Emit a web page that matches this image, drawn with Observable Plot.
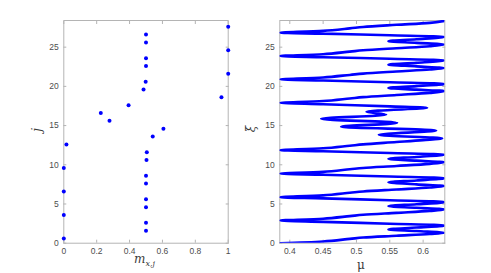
<!DOCTYPE html>
<html>
<head>
<meta charset="utf-8">
<script src="https://cdn.jsdelivr.net/npm/d3@7"></script>
<script src="https://cdn.jsdelivr.net/npm/@observablehq/plot@0.6"></script>
<style>
  body { margin: 0; background: #fff; }
  #wrap { position: relative; width: 491px; height: 273px; background: #fff; overflow: hidden; }
  .panel { position: absolute; top: 0; }
  .lab { position: absolute; font-family: "DejaVu Serif", "Liberation Serif", serif; font-style: italic; color: #3a3a3a; font-size: 12px; line-height: 1; white-space: nowrap; }
  .lab sub { font-size: 8px; }
</style>
</head>
<body>
<div id="wrap">
  <div id="left" class="panel" style="left:0px"></div>
  <div id="right" class="panel" style="left:245px"></div>
  <div class="lab" id="lx" style="left:134px; top:253px;">m<sub>x,j</sub></div>
  <div class="lab" id="ly" style="left:35px; top:124px; transform: rotate(-90deg);">j</div>
  <div class="lab" id="rx" style="left:357px; top:259px; font-style: normal;">μ</div>
  <div class="lab" id="ry" style="left:248px; top:123px; transform: rotate(-90deg);">ξ</div>
</div>
<script>
// ---- Left panel data: j versus m_{x,j}
const jValues = [0.6, 1.6, 2.6, 3.6, 4.6, 5.6, 6.6, 7.6, 8.6, 9.6, 10.6, 11.6, 12.6, 13.6,
                 14.6, 15.6, 16.6, 17.6, 18.6, 19.6, 20.6, 21.6, 22.6, 23.6, 24.6, 25.6, 26.6, 27.6];
const mValues = [0, 0.5, 0.5, 0, 0.5, 0.5, 0, 0.5, 0.5, 0, 0.503, 0.505, 0.016, 0.541,
                 0.606, 0.278, 0.225, 0.394, 0.959, 0.485, 0.498, 1, 0.5, 0.5, 1, 0.5, 0.5, 1];

// ---- Right panel data: the continuation curve xi versus mu (in drawing order)
const muCurve = [
  0.386, 0.45, 0.49, 0.51, 0.56, 0.61, 0.632,
  0.59, 0.548, 0.59, 0.632,
  0.55, 0.45, 0.386,
  0.45, 0.49, 0.51, 0.56, 0.61, 0.632,
  0.59, 0.548, 0.59, 0.632,
  0.55, 0.45, 0.386,
  0.45, 0.49, 0.51, 0.56, 0.61, 0.632,
  0.59, 0.548, 0.59, 0.632,
  0.55, 0.45, 0.386,
  0.45, 0.49, 0.51, 0.56, 0.61, 0.632,
  0.59, 0.548, 0.59, 0.632,
  0.55, 0.45, 0.386,
  0.45, 0.49, 0.51, 0.56, 0.60, 0.6285,
  0.5335, 0.6196, 0.477, 0.561, 0.447, 0.5446, 0.515, 0.606,
  0.55, 0.45, 0.386,
  0.45, 0.49, 0.51, 0.56, 0.61, 0.632,
  0.59, 0.548, 0.59, 0.632,
  0.55, 0.45, 0.386,
  0.45, 0.49, 0.51, 0.56, 0.61, 0.632,
  0.59, 0.548, 0.59, 0.632,
  0.55, 0.45, 0.386,
  0.45, 0.49, 0.51, 0.56, 0.61, 0.632,
  0.59, 0.548, 0.59, 0.632,
  0.55, 0.45, 0.386,
  0.45, 0.49, 0.51, 0.56, 0.61, 0.632
];
const xiCurve = [
  0.0, 0.22, 0.55, 0.72, 0.95, 1.18, 1.33,
  1.55, 1.76, 2.0, 2.25,
  2.48, 2.72, 2.89,
  3.12, 3.45, 3.62, 3.87, 4.12, 4.30,
  4.52, 4.73, 4.97, 5.23,
  5.48, 5.72, 5.87,
  6.10, 6.43, 6.60, 6.85, 7.10, 7.28,
  7.50, 7.77, 8.00, 8.28,
  8.50, 8.73, 8.88,
  9.10, 9.43, 9.60, 9.85, 10.12, 10.32,
  10.53, 10.76, 11.00, 11.28,
  11.50, 11.72, 11.87,
  12.10, 12.43, 12.60, 12.90, 13.15, 13.38,
  13.82, 14.37, 14.84, 15.35, 15.86, 16.41, 16.75, 17.26,
  17.45, 17.72, 17.90,
  18.13, 18.46, 18.63, 18.90, 19.17, 19.38,
  19.58, 19.80, 20.03, 20.30,
  20.52, 20.75, 20.90,
  21.13, 21.46, 21.63, 21.90, 22.15, 22.33,
  22.55, 22.77, 23.00, 23.30,
  23.52, 23.72, 23.87,
  24.10, 24.43, 24.60, 24.87, 25.12, 25.33,
  25.55, 25.76, 26.00, 26.30,
  26.52, 26.72, 26.85,
  27.08, 27.40, 27.58, 27.85, 28.10, 28.35
];

// ---- Ticks
const leftXTicks = [0, 0.2, 0.4, 0.6, 0.8, 1];
const rightXTicks = [0.4, 0.45, 0.5, 0.55, 0.6];
const yTicks = [0, 5, 10, 15, 20, 25];

const points = jValues.map((j, i) => ({m: mValues[i], j}));
const curve = muCurve.map((mu, i) => ({mu, xi: xiCurve[i]}));

const axisColor = "#b4b4b4";
const textColor = "#4d4d4d";
const blue = "#0000ff";
const style = {fontFamily: "'Liberation Sans', Arial, Helvetica, sans-serif", fontSize: "8.5px", color: textColor, background: "transparent", overflow: "visible"};

function axes(xTicks, fmtX) {
  const blank = () => "";
  return [
    Plot.axisX(xTicks, {anchor: "bottom", tickSize: -3, tickPadding: 8, label: null, stroke: axisColor, tickFormat: fmtX}),
    Plot.axisX(xTicks, {anchor: "top", tickSize: -3, tickPadding: 0, label: null, stroke: axisColor, tickFormat: blank}),
    Plot.axisY(yTicks, {anchor: "left", tickSize: -3, tickPadding: 8, label: null, stroke: axisColor}),
    Plot.axisY(yTicks, {anchor: "right", tickSize: -3, tickPadding: 0, label: null, stroke: axisColor, tickFormat: blank}),
    Plot.frame({stroke: axisColor, strokeWidth: 1})
  ];
}

const left = Plot.plot({
  width: 245, height: 273,
  marginLeft: 63.3, marginRight: 17.3, marginTop: 20, marginBottom: 30.3,
  x: {domain: [0, 1]},
  y: {domain: [0, 28.4]},
  style,
  marks: [
    ...axes(leftXTicks, d => String(d)),
    Plot.dot(points, {x: "m", y: "j", r: 2.0, fill: blue, stroke: "none"})
  ]
});
document.getElementById("left").appendChild(left);

const right = Plot.plot({
  width: 246, height: 273,
  marginLeft: 34.3, marginRight: 46.7, marginTop: 20, marginBottom: 30.3,
  x: {domain: [0.385, 0.6325]},
  y: {domain: [0, 28.4]},
  style,
  marks: [
    ...axes(rightXTicks, d => String(d)),
    Plot.line(curve, {x: "mu", y: "xi", stroke: blue, strokeWidth: 2.6, curve: "catmull-rom", clip: true})
  ]
});
document.getElementById("right").appendChild(right);
</script>
</body>
</html>
